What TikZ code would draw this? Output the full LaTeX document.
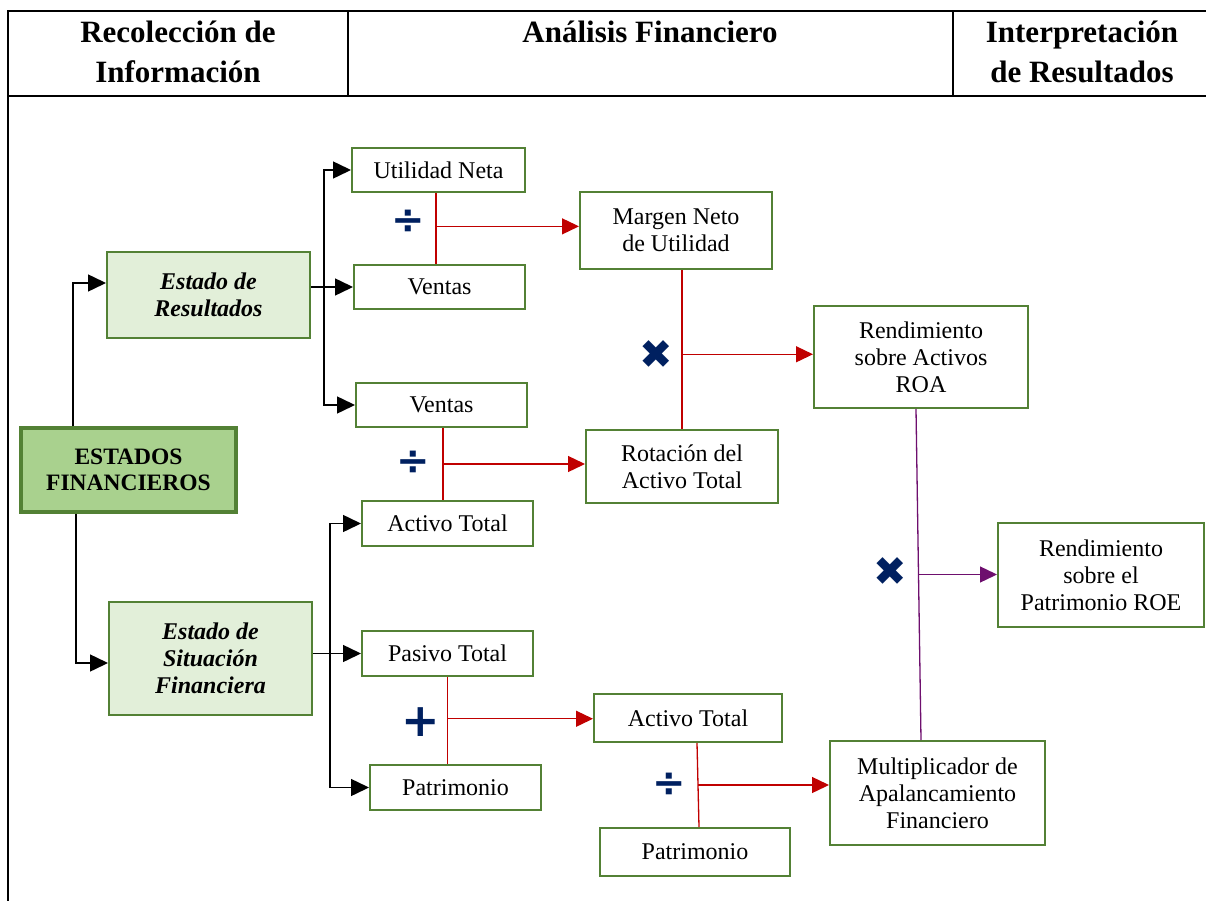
\documentclass[tikz,border=0pt]{standalone}
\usepackage{fontspec}
\setmainfont{Liberation Serif}
\newfontfamily\opfont{DejaVu Sans}
\usetikzlibrary{arrows.meta,calc}
\definecolor{boxgreen}{HTML}{538135}
\definecolor{lightgreen}{HTML}{E2EFD9}
\definecolor{midgreen}{HTML}{A9D18E}
\definecolor{linkred}{HTML}{C00000}
\definecolor{linkpurple}{HTML}{6E0F6E}
\definecolor{opnavy}{HTML}{002060}

\begin{document}
\begin{tikzpicture}[x=1pt,y=-1pt,
box/.style={draw=boxgreen, line width=2pt, inner sep=0pt, align=center, text depth=0pt,
  font=\fontsize{24}{27}\selectfont},
statebox/.style={box, fill=lightgreen, font=\fontsize{24}{27}\selectfont\bfseries\itshape},
rootbox/.style={box, fill=midgreen, line width=3.2pt, font=\fontsize{23.5}{26}\selectfont\bfseries},
head/.style={align=center, inner sep=0pt, font=\fontsize{31}{40}\selectfont\bfseries},
blk/.style={black, line width=1.5pt, -{Triangle[length=18pt,width=17pt]}},
redtip/.style={-{Triangle[length=17pt,width=16pt]}},
redl/.style={linkred, line width=1.3pt},
purl/.style={linkpurple, line width=1.3pt},
op/.style={text=opnavy, inner sep=0pt, font=\opfont\bfseries\fontsize{40}{40}\selectfont},
]
\useasboundingbox (0,0) rectangle (1206,901);

% header table
\draw[line width=2pt] (1206,11) -- (8,11) -- (8,901);
\draw[line width=2pt] (8,96) -- (1206,96);
\draw[line width=2pt] (348,11) -- (348,96);
\draw[line width=2pt] (953,11) -- (953,96);
\node[head] (h1) at (178,52) {Recolección de\\Información};
\node[head] (h2) at (650,32) {Análisis Financiero};
\node[head] (h3) at (1082,52) {Interpretación\\de Resultados};

% boxes
\node[rootbox, minimum width=215, minimum height=84] (ef) at (128.5,470) {ESTADOS\\FINANCIEROS};
\node[statebox, minimum width=203, minimum height=86] (er) at (208.5,295) {Estado de\\Resultados};
\node[statebox, minimum width=203, minimum height=113] (esf) at (210.5,658.5) {Estado de\\Situación\\Financiera};

\node[box, minimum width=173, minimum height=44] (un) at (438.5,170) {Utilidad Neta};
\node[box, minimum width=171, minimum height=44] (v1) at (439.5,287) {Ventas};
\node[box, minimum width=171, minimum height=44] (v2) at (441.5,405) {Ventas};
\node[box, minimum width=171, minimum height=45] (at1) at (447.5,523.5) {Activo Total};
\node[box, minimum width=171, minimum height=45] (pt) at (447.5,653.5) {Pasivo Total};
\node[box, minimum width=171, minimum height=45] (pa1) at (455.5,787.5) {Patrimonio};

\node[box, minimum width=192, minimum height=77] (mn) at (676,230.5) {Margen Neto\\de Utilidad};
\node[box, minimum width=192, minimum height=73] (rot) at (682,466.5) {Rotación del\\Activo Total};
\node[box, minimum width=188, minimum height=48] (at2) at (688,718) {Activo Total};
\node[box, minimum width=190, minimum height=48] (pa2) at (695,852) {Patrimonio};

\node[box, minimum width=214, minimum height=102] (roa) at (921,357) {Rendimiento\\sobre Activos\\ROA};
\node[box, minimum width=215, minimum height=104] (mult) at (937.5,793) {Multiplicador de\\Apalancamiento\\Financiero};
\node[box, minimum width=206, minimum height=104] (roe) at (1101,575) {Rendimiento\\sobre el\\Patrimonio ROE};

% black links
\coordinate (t1) at (324,0);
\coordinate (t2) at (330,0);
\draw[blk] ([xshift=-55.5]ef.north) |- ([yshift=12]er.west);
\draw[blk] ([xshift=-52.5]ef.south) |- ([yshift=-4.5]esf.west);
\draw[blk] (er.east |- v1.west) -- (v1.west);
\draw[blk] (t1 |- v1.west) |- (un.west);
\draw[blk] (t1 |- v1.west) |- (v2.west);
\draw[blk] (esf.east |- pt.west) -- (pt.west);
\draw[blk] (t2 |- pt.west) |- (at1.west);
\draw[blk] (t2 |- pt.west) |- (pa1.west);

% red links
\draw[redl] ([xshift=-2.5]un.south) -- coordinate[pos=.47] (m1) ([xshift=-2.5]un.south |- v1.north);
\draw[redl, redtip] (m1) -- (m1 -| mn.west);
\draw[redl] ([xshift=1.5]v2.south) -- coordinate[pos=.5] (m2) ([xshift=1.5]v2.south |- at1.north);
\draw[redl, redtip] (m2) -- (m2 -| rot.west);
\draw[redl] (rot.north |- mn.south) -- coordinate[pos=.53] (m3) (rot.north);
\draw[redl, redtip] (m3) -- (m3 -| roa.west);
\draw[redl] (pt.south) -- coordinate[pos=.48] (m4) (pt.south |- pa1.north);
\draw[redl, redtip] (m4) -- (m4 -| at2.west);
\draw[redl] ([xshift=9]at2.south) -- coordinate[pos=.5] (m5) ([xshift=11]at2.south |- pa2.north);
\draw[redl, redtip] (m5) -- (m5 -| mult.west);

% purple link
\draw[purl] ([xshift=-5]roa.south) -- coordinate[pos=.5] (m6) ([xshift=-16.5]mult.north);
\draw[purl, redtip] (m6) -- (m6 -| roe.west);

% operators
\node[op] (d1) at (408,222) {÷};
\node[op] (d2) at (413,463) {÷};
\node[op] (x1) at (656,355) {✖};
\node[op, font=\opfont\bfseries\fontsize{46}{46}\selectfont] (p1) at (421,722) {+};
\node[op] (d3) at (669,785) {÷};
\node[op] (x2) at (890,572) {✖};
\end{tikzpicture}
\end{document}
